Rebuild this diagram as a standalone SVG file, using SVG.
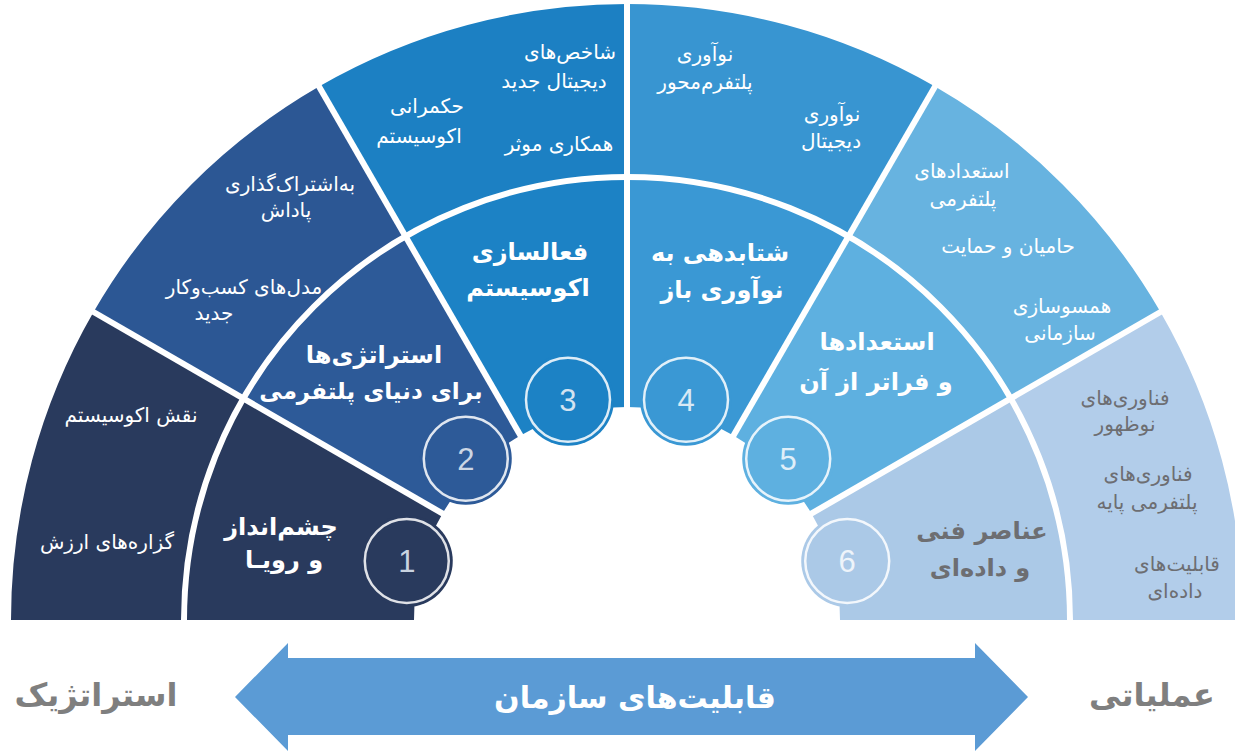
<svg xmlns="http://www.w3.org/2000/svg" width="1235" height="752" viewBox="0 0 1235 752">
<style>
text{font-family:"DejaVu Sans","Noto Sans",sans-serif;text-anchor:middle;direction:rtl}
.t{font-weight:bold;font-size:24px;fill:#ffffff}
.tg{font-weight:bold;font-size:24px;fill:#6d6e72}
.o{font-size:20px;fill:#ffffff}
.og{font-size:20px;fill:#6d6e72}
.n{font-family:"Liberation Sans",Arial,sans-serif;font-size:31px;direction:ltr}
.ring{fill:none;stroke:#ffffff;stroke-width:2.5;stroke-opacity:0.85}
.sep{stroke:#ffffff;stroke-width:6;fill:none}
.side{font-weight:bold;font-size:32px;fill:#7f7f7f}
</style>
<rect width="1235" height="752" fill="#ffffff"/>
<g id="seg1">
<path d="M11,620 A616,616 0 0 1 93.53,312 L243.35,398.5 A443,443 0 0 0 184,620 Z" fill="#293a5d"/>
<path d="M184,620 A443,443 0 0 1 243.35,398.5 L442.54,513.5 A213,213 0 0 0 414,620 Z" fill="#293a5d"/>
<circle cx="406.77" cy="560.99" r="46" fill="#293a5d"/>
<circle cx="406.77" cy="560.99" r="42" class="ring"/>
<text class="n" x="406.77" y="572" fill="#c9d3e0">1</text>
<text class="t" x="281" y="535">چشم‌انداز</text>
<text class="t" x="284" y="568">و رویـا</text>
<text class="o" x="131" y="422">نقش اکوسیستم</text>
<text class="o" x="107" y="549">گزاره‌های ارزش</text>
</g>
<g id="seg2">
<path d="M93.53,312 A616,616 0 0 1 319,86.53 L405.5,236.35 A443,443 0 0 0 243.35,398.5 Z" fill="#2c5794"/>
<path d="M243.35,398.5 A443,443 0 0 1 405.5,236.35 L520.5,435.54 A213,213 0 0 0 442.54,513.5 Z" fill="#2d5a98"/>
<circle cx="465.78" cy="458.78" r="46" fill="#2d5a98"/>
<circle cx="465.78" cy="458.78" r="42" class="ring"/>
<text class="n" x="465.78" y="470" fill="#ccd6e4">2</text>
<text class="t" x="374" y="363">استراتژی‌ها</text>
<text class="t" x="371" y="399" style="font-size:23px">برای دنیای پلتفرمی</text>
<text class="o" x="290" y="191">به‌اشتراک‌گذاری</text>
<text class="o" x="286" y="217">پاداش</text>
<text class="o" x="244" y="294">مدل‌های کسب‌وکار</text>
<text class="o" x="214" y="320">جدید</text>
</g>
<g id="seg3">
<path d="M319,86.53 A616,616 0 0 1 627,4 L627,177 A443,443 0 0 0 405.5,236.35 Z" fill="#1c80c3"/>
<path d="M405.5,236.35 A443,443 0 0 1 627,177 L627,407 A213,213 0 0 0 520.5,435.54 Z" fill="#1c82c5"/>
<circle cx="567.99" cy="399.77" r="46" fill="#1c82c5"/>
<circle cx="567.99" cy="399.77" r="42" class="ring"/>
<text class="n" x="567.99" y="411" fill="#d2e3f1">3</text>
<text class="t" x="530" y="260">فعالسازی</text>
<text class="t" x="528" y="296">اکوسیستم</text>
<text class="o" x="427" y="113">حکمرانی</text>
<text class="o" x="419" y="143">اکوسیستم</text>
<text class="o" x="570" y="59">شاخص‌های</text>
<text class="o" x="554" y="88">دیجیتال جدید</text>
<text class="o" x="559" y="151">همکاری موثر</text>
</g>
<g id="seg4">
<path d="M627,4 A616,616 0 0 1 935,86.53 L848.5,236.35 A443,443 0 0 0 627,177 Z" fill="#3895d1"/>
<path d="M627,177 A443,443 0 0 1 848.5,236.35 L733.5,435.54 A213,213 0 0 0 627,407 Z" fill="#3a98d4"/>
<circle cx="686.01" cy="399.77" r="46" fill="#3a98d4"/>
<circle cx="686.01" cy="399.77" r="42" class="ring"/>
<text class="n" x="686.01" y="411" fill="#d8e9f5">4</text>
<text class="t" x="720" y="261">شتابدهی به</text>
<text class="t" x="722" y="298">نوآوری باز</text>
<text class="o" x="705" y="61">نوآوری</text>
<text class="o" x="705" y="89">پلتفرم‌محور</text>
<text class="o" x="832" y="121">نوآوری</text>
<text class="o" x="831" y="148">دیجیتال</text>
</g>
<g id="seg5">
<path d="M935,86.53 A616,616 0 0 1 1160.47,312 L1010.65,398.5 A443,443 0 0 0 848.5,236.35 Z" fill="#67b3e0"/>
<path d="M848.5,236.35 A443,443 0 0 1 1010.65,398.5 L811.46,513.5 A213,213 0 0 0 733.5,435.54 Z" fill="#5eb0e0"/>
<circle cx="788.22" cy="458.78" r="46" fill="#5eb0e0"/>
<circle cx="788.22" cy="458.78" r="42" class="ring"/>
<text class="n" x="788.22" y="470" fill="#e0eff9">5</text>
<text class="t" x="877" y="350">استعدادها</text>
<text class="t" x="876" y="390">و فراتر از آن</text>
<text class="o" x="962" y="178">استعدادهای</text>
<text class="o" x="963" y="206">پلتفرمی</text>
<text class="o" x="1008" y="253">حامیان و حمایت</text>
<text class="o" x="1062" y="313">همسوسازی</text>
<text class="o" x="1060" y="340">سازمانی</text>
</g>
<g id="seg6">
<path d="M1160.47,312 A616,616 0 0 1 1243,620 L1070,620 A443,443 0 0 0 1010.65,398.5 Z" fill="#b2cdea"/>
<path d="M1010.65,398.5 A443,443 0 0 1 1070,620 L840,620 A213,213 0 0 0 811.46,513.5 Z" fill="#abc9e7"/>
<circle cx="847.23" cy="560.99" r="46" fill="#abc9e7"/>
<circle cx="847.23" cy="560.99" r="42" class="ring"/>
<text class="n" x="847.23" y="572" fill="#eef4fa">6</text>
<text class="tg" x="982" y="539">عناصر فنی</text>
<text class="tg" x="980" y="576">و داده‌ای</text>
<text class="og" x="1125" y="405">فناوری‌های</text>
<text class="og" x="1125" y="431">نوظهور</text>
<text class="og" x="1148" y="481">فناوری‌های</text>
<text class="og" x="1147" y="509">پلتفرمی پایه</text>
<text class="og" x="1177" y="571">قابلیت‌های</text>
<text class="og" x="1175" y="598">داده‌ای</text>
</g>
<g id="connectors">
<path class="sep" d="M184,620 A443,443 0 0 1 1070,620" stroke-width="5"/>
<line class="sep" x1="470.55" y1="529.67" x2="91.8" y2="311"/>
<line class="sep" x1="536.67" y1="463.55" x2="318" y2="84.8"/>
<line class="sep" x1="627" y1="440" x2="627" y2="2"/>
<line class="sep" x1="717.33" y1="463.55" x2="936" y2="84.8"/>
<line class="sep" x1="783.45" y1="529.67" x2="1162.2" y2="311"/>
</g>
<g id="arrow">
<polygon points="235,697 288,643 288,658 975,658 975,643 1028,697 975,751 975,735 288,735 288,751" fill="#5b9bd5"/>
<text x="635" y="708" style="font-weight:bold;font-size:30px;fill:#ffffff">قابلیت‌های سازمان</text>
</g>
<g id="labels">
<text class="side" x="96" y="706">استراتژیک</text>
<text class="side" x="1152" y="706">عملیاتی</text>
</g>
</svg>
